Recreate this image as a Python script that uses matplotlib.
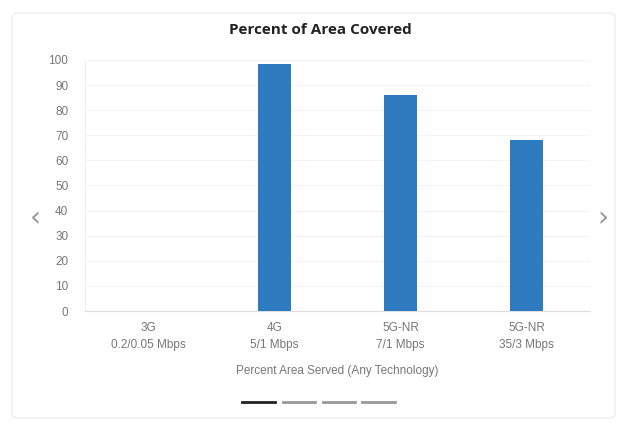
import matplotlib.pyplot as plt
from matplotlib.patches import FancyBboxPatch

categories = ["3G\n0.2/0.05 Mbps", "4G\n5/1 Mbps", "5G-NR\n7/1 Mbps", "5G-NR\n35/3 Mbps"]
percent = [0, 98.5, 86, 68]
yticks = list(range(0, 101, 10))

plt.rcParams['font.family'] = ['Liberation Sans', 'DejaVu Sans']

fig = plt.figure(figsize=(6.26, 4.28), dpi=100)
fig.patch.set_facecolor("white")

# card frame
card = FancyBboxPatch((12 / 626, 10 / 428), 603 / 626, 405 / 428,
                      boxstyle="round,pad=0,rounding_size=0.01",
                      transform=fig.transFigure, facecolor="white",
                      edgecolor="#ececec", linewidth=1.0, zorder=-10)
fig.patches.append(card)

ax = fig.add_axes([85 / 626, (428 - 311) / 428, 505 / 626, 251 / 428])
ax.set_facecolor("none")
x = range(len(categories))
ax.bar(x, percent, width=0.26, color="#2e7bbf", zorder=3)
ax.set_xlim(-0.5, len(categories) - 0.5)
ax.set_ylim(0, 100)
ax.set_yticks(yticks)
ax.set_xticks(list(x))
ax.set_xticklabels(categories, fontsize=8.5, color="#777777", linespacing=1.55)
ax.tick_params(axis="y", labelsize=8.5, labelcolor="#777777", length=0, pad=12)
ax.tick_params(axis="x", length=0, pad=8)
ax.grid(axis="y", color="#f3f3f3", linewidth=0.8, zorder=0)
for s in ["top", "right"]:
    ax.spines[s].set_visible(False)
ax.spines["left"].set_color("#eeeeee")
ax.spines["bottom"].set_color("#dddddd")
ax.set_xlabel("Percent Area Served (Any Technology)", fontsize=8.5, color="#777777", labelpad=10)

fig.text(0.511, 1 - 30 / 428, "Percent of Area Covered", ha="center", va="center",
         fontsize=11, fontweight="bold", color="#222222", family=["Open Sans", "DejaVu Sans"])

# carousel arrows
fig.text(35 / 626, 1 - 218 / 428, "\u2039", ha="center", va="center", fontsize=20, color="#999999",
         family=["DejaVu Sans"])
fig.text(603 / 626, 1 - 218 / 428, "\u203a", ha="center", va="center", fontsize=20, color="#999999",
         family=["DejaVu Sans"])

# carousel indicators
ind_y = 1 - 402 / 428
dots = [(242, 275, "#222222"), (283, 315, "#999999"), (323, 355, "#999999"), (362, 395, "#999999")]
for x0, x1, c in dots:
    fig.add_artist(plt.Line2D([x0 / 626, x1 / 626], [ind_y, ind_y], transform=fig.transFigure,
                              color=c, linewidth=2))

fig.savefig("out.png", dpi=100)
